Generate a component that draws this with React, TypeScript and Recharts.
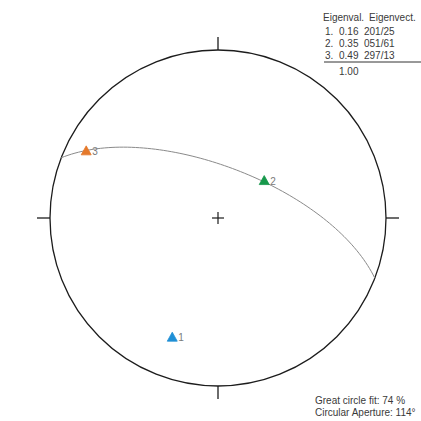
import React from 'react';
import { ComposedChart, XAxis, YAxis, Scatter, ReferenceDot, ReferenceLine } from 'recharts';

// ---- data ----
const eigenIds = ['1', '2', '3'];
const eigenvalues = [0.16, 0.35, 0.49];
const eigenTrends = [201, 51, 297];
const eigenPlunges = [25, 61, 13];
const eigenTotal = '1.00';
const markerColors = ['#1f8fd6', '#17984b', '#e5792b'];
const greatCircleFitPct = 74;
const circularApertureDeg = 114;

// ---- layout constants ----
const W = 421;
const H = 421;
const CX = 218;
const CY = 218;
const R = 168;

const rad = (d: number) => (d * Math.PI) / 180;

// Lower-hemisphere equal-area (Schmidt) projection, unit radius = primitive circle
function project(trend: number, plunge: number) {
  const r = Math.SQRT2 * Math.sin(rad((90 - plunge) / 2));
  return { x: r * Math.sin(rad(trend)), y: r * Math.cos(rad(trend)) };
}

const eigenPoints = eigenIds.map((id, i) => ({
  id,
  color: markerColors[i],
  ...project(eigenTrends[i], eigenPlunges[i]),
}));

// Best-fit great circle: the plane whose pole is eigenvector 1
function greatCircle(poleTrend: number, polePlunge: number) {
  const dd = (poleTrend + 180) % 360;
  const dip = 90 - polePlunge;
  const s = [Math.cos(rad(dd - 90)), Math.sin(rad(dd - 90)), 0];
  const d = [Math.cos(rad(dip)) * Math.cos(rad(dd)), Math.cos(rad(dip)) * Math.sin(rad(dd)), Math.sin(rad(dip))];
  const pts: { x: number; y: number }[] = [];
  for (let t = 0; t <= 180; t += 2) {
    const c = Math.cos(rad(t));
    const sn = Math.sin(rad(t));
    let n = c * s[0] + sn * d[0];
    let e = c * s[1] + sn * d[1];
    let z = c * s[2] + sn * d[2];
    if (z < 0) { n = -n; e = -e; z = -z; }
    const trend = (Math.atan2(e, n) * 180) / Math.PI;
    const plunge = (Math.asin(Math.min(1, z)) * 180) / Math.PI;
    pts.push(project(trend, plunge));
  }
  return pts;
}
const gcPoints = greatCircle(eigenTrends[0], eigenPlunges[0]);

const xDomain = [-CX / R, (W - CX) / R];
const yDomain = [-(H - CY) / R, CY / R];
const TICK = 13 / R;
const CROSS = 6 / R;

const Marker = (props: any) => {
  const { cx, cy, payload } = props;
  if (cx == null || cy == null) return <g />;
  return (
    <g>
      <polygon
        points={`${cx},${cy - 5} ${cx - 5},${cy + 4} ${cx + 5},${cy + 4}`}
        fill={payload.color}
        stroke={payload.color}
        strokeWidth={0.8}
      />
      <text x={cx + 6} y={cy + 4} fontSize={10} fill="#7a7a7a" fontFamily="Liberation Sans, Arial, sans-serif">
        {payload.id}
      </text>
    </g>
  );
};

const txt = { fontFamily: 'Liberation Sans, Arial, sans-serif', fontSize: 10, fill: '#3a3a3a' } as const;

export default function App() {
  return (
    <div style={{ position: 'absolute', left: 0, top: 0, width: W, height: H, background: '#fff' }}>
      <ComposedChart width={W} height={H} margin={{ top: 0, right: 0, bottom: 0, left: 0 }}>
        <XAxis type="number" dataKey="x" domain={xDomain} hide allowDataOverflow />
        <YAxis type="number" dataKey="y" domain={yDomain} hide allowDataOverflow />
        <ReferenceDot x={0} y={0} r={R} fill="none" stroke="#1c1c1c" strokeWidth={1.3} ifOverflow="visible" />
        <ReferenceLine segment={[{ x: 0, y: 1 }, { x: 0, y: 1 + TICK }]} stroke="#1c1c1c" strokeWidth={1.3} ifOverflow="visible" />
        <ReferenceLine segment={[{ x: 0, y: -1 }, { x: 0, y: -1 - TICK }]} stroke="#1c1c1c" strokeWidth={1.3} ifOverflow="visible" />
        <ReferenceLine segment={[{ x: 1, y: 0 }, { x: 1 + TICK, y: 0 }]} stroke="#1c1c1c" strokeWidth={1.3} ifOverflow="visible" />
        <ReferenceLine segment={[{ x: -1, y: 0 }, { x: -1 - TICK, y: 0 }]} stroke="#1c1c1c" strokeWidth={1.3} ifOverflow="visible" />
        <ReferenceLine segment={[{ x: -CROSS, y: 0 }, { x: CROSS, y: 0 }]} stroke="#1c1c1c" strokeWidth={1.2} ifOverflow="visible" />
        <ReferenceLine segment={[{ x: 0, y: -CROSS }, { x: 0, y: CROSS }]} stroke="#1c1c1c" strokeWidth={1.2} ifOverflow="visible" />
        <Scatter
          data={gcPoints}
          line={{ stroke: '#8a8a8a', strokeWidth: 1 }}
          shape={() => <g />}
          isAnimationActive={false}
        />
        <Scatter data={eigenPoints} shape={Marker} isAnimationActive={false} />
      </ComposedChart>
      <svg width={W} height={H} style={{ position: 'absolute', left: 0, top: 0, pointerEvents: 'none' }}>
        <text x={323} y={21} {...txt}>Eigenval.</text>
        <text x={369} y={21} {...txt}>Eigenvect.</text>
        {eigenIds.map((id, i) => (
          <g key={id}>
            <text x={325} y={35 + i * 12} {...txt}>{id}.</text>
            <text x={339} y={35 + i * 12} {...txt}>{eigenvalues[i].toFixed(2)}</text>
            <text x={364} y={35 + i * 12} {...txt}>
              {String(eigenTrends[i]).padStart(3, '0')}/{String(eigenPlunges[i]).padStart(2, '0')}
            </text>
          </g>
        ))}
        <line x1={324} y1={62} x2={421} y2={62} stroke="#333" strokeWidth={1} />
        <text x={339} y={75} {...txt}>{eigenTotal}</text>
        <text x={315} y={404} {...txt}>Great circle fit: {greatCircleFitPct} %</text>
        <text x={315} y={416} {...txt}>Circular Aperture: {circularApertureDeg}°</text>
      </svg>
    </div>
  );
}
